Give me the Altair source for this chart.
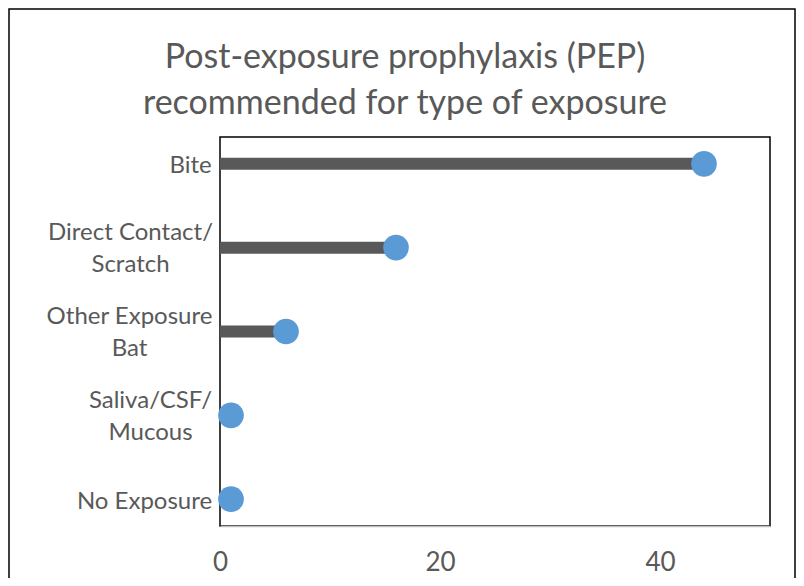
import altair as alt
import pandas as pd

categories = ["Bite", "Direct Contact/|Scratch", "Other Exposure|Bat", "Saliva/CSF/|Mucous", "No Exposure"]
values = [44, 16, 6, 1, 1]

df = pd.DataFrame({"cat": categories, "val": values, "zero": [0] * len(values)})

FONT = "Lato"
GREY = "#595959"

# half of each label block's widest line, so that lines are centred like Excel does
label_half_width = {"Bite": 21, "Direct Contact/|Scratch": 81, "Other Exposure|Bat": 82,
                    "Saliva/CSF/|Mucous": 61, "No Exposure": 67}

label_padding = {
    "condition": [
        {"test": f"datum.value == '{k}'", "value": 9 + v} for k, v in label_half_width.items()
    ],
    "value": 9,
}

y_enc = alt.Y(
    "cat:N",
    sort=categories,
    scale=alt.Scale(type="point", padding=0.32),
    axis=alt.Axis(
        title=None,
        labelExpr="split(datum.label, '|')",
        labelFont=FONT,
        labelFontSize=24,
        labelColor=GREY,
        labelLineHeight=32,
        labelAlign="center",
        labelPadding=label_padding,
        labelOffset={"condition": {"test": "indexof(datum.value, '|') >= 0", "value": -15}, "value": 2},
        ticks=False,
        domain=False,
        grid=False,
        labelLimit=300,
    ),
)

x_scale = alt.Scale(domain=[0, 50], nice=False)

frame = alt.Chart(pd.DataFrame({"a": [0]})).mark_rect(
    fill=None, stroke="black", strokeWidth=1.5
).encode(
    x=alt.value(-211), x2=alt.value(575), y=alt.value(-128), y2=alt.value(480)
)

bars = alt.Chart(df).mark_rule(color=GREY, strokeWidth=12).encode(
    x=alt.X(
        "zero:Q",
        scale=x_scale,
        axis=alt.Axis(
            title=None,
            values=[0, 20, 40],
            labelFont=FONT,
            labelFontSize=26,
            labelColor=GREY,
            labelPadding=23,
            labelFlush=False,
            ticks=False,
            grid=False,
            domainColor="#bfbfbf",
            domainWidth=1.5,
            zindex=1,
        ),
    ),
    x2="val:Q",
    y=y_enc,
)

dots = alt.Chart(df).mark_circle(color="#5b9bd5", opacity=1, size=660).encode(
    x=alt.X("val:Q", scale=x_scale),
    y=alt.Y("cat:N", sort=categories),
)

chart = (
    alt.layer(frame, bars, dots)
    .properties(
        width=550,
        height=389,
        background="white",
        autosize=alt.AutoSizeParams(type="none"),
        padding={"left": 212, "top": 129, "right": 26, "bottom": 52},
        title=alt.TitleParams(
            text=["Post-exposure prophylaxis (PEP)", "recommended for type of exposure"],
            font=FONT,
            fontSize=34,
            fontWeight="normal",
            color=GREY,
            lineHeight=46,
            anchor="middle",
            frame="group",
            dx=-90,
            offset=-113,
        ),
    )
    .configure_view(stroke="black", strokeWidth=1.5)
)

chart.save("out.html", embed_options={"renderer": "svg", "actions": False})
